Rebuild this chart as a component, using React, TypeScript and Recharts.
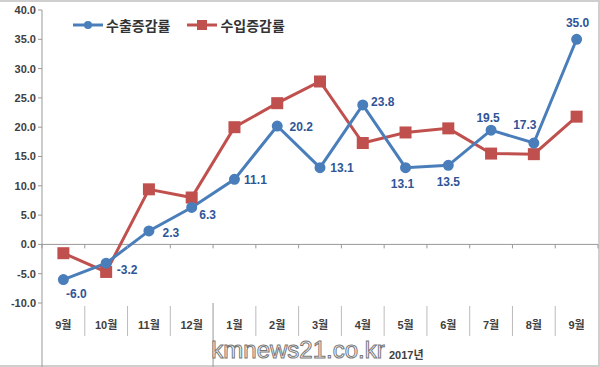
import React from 'react'
import {
  LineChart,
  Line,
  XAxis,
  YAxis,
  ReferenceLine,
  LabelList,
} from 'recharts'

const months = ['9월', '10월', '11월', '12월', '1월', '2월', '3월', '4월', '5월', '6월', '7월', '8월', '9월']
const exportRate = [-6.0, -3.2, 2.3, 6.3, 11.1, 20.2, 13.1, 23.8, 13.1, 13.5, 19.5, 17.3, 35.0]
const importRate = [-1.5, -4.7, 9.4, 8.0, 20.0, 24.1, 27.8, 17.3, 19.1, 19.8, 15.5, 15.4, 21.8]
const yTicks = [-10, -5, 0, 5, 10, 15, 20, 25, 30, 35, 40]
const yearLabel = '2017년'

const data = months.map((m, i) => ({
  key: `${m}-${i}`,
  month: m,
  exp: exportRate[i],
  imp: importRate[i],
}))

const W = 600
const H = 367
const PLOT_LEFT = 42
const PLOT_RIGHT = 598
const PLOT_TOP = 10
const PLOT_BOTTOM = 303
const BAND = (PLOT_RIGHT - PLOT_LEFT) / months.length
const ZERO_Y = PLOT_TOP + ((PLOT_BOTTOM - PLOT_TOP) * 40) / 50

const BLUE = '#4a7ebb'
const RED = '#c0504d'
const TEXT = '#404040'
const FONT = "'Liberation Sans', Arial, 'Noto Sans CJK KR', sans-serif"

// label offsets from each point (dx, dy)
const labelOffsets = [
  [13, 14], [21, 7], [22, 2], [16, 8], [21, 1], [24, 1], [22, 0],
  [20, -3], [-3, 16], [0, 17], [-3, -12], [-9, -18], [1, -16],
]

const MonthTick = ({ x, payload, index }: any) => {
  const left = x - BAND / 2
  const right = x + BAND / 2
  const isLast = index === months.length - 1
  return (
    <g>
      <line x1={left} x2={left} y1={ZERO_Y} y2={ZERO_Y + 4} stroke="#999" />
      {index === 0 || index === 4 ? (
        <line x1={left} x2={left} y1={PLOT_BOTTOM} y2={H} stroke="#999" />
      ) : (
        <line x1={left} x2={left} y1={PLOT_BOTTOM + 3} y2={PLOT_BOTTOM + 33} stroke="#bbb" />
      )}
      {isLast && (
        <line x1={right} x2={right} y1={ZERO_Y} y2={ZERO_Y + 4} stroke="#999" />
      )}
      <text
        x={x}
        y={PLOT_BOTTOM + 26}
        textAnchor="middle"
        fontSize={11}
        fontWeight={700}
        fill={TEXT}
        fontFamily={FONT}
      >
        {payload.value}
      </text>
    </g>
  )
}

const renderExportLabel = (props: any) => {
  const { x, y, value, index } = props
  const [dx, dy] = labelOffsets[index] || [0, -12]
  return (
    <text
      x={x + dx}
      y={y + dy}
      textAnchor="middle"
      dominantBaseline="central"
      fontSize={12}
      fontWeight={700}
      fill="#2f5597"
      fontFamily={FONT}
    >
      {Number(value).toFixed(1)}
    </text>
  )
}

const LegendBox = () => (
  <div
    style={{
      position: 'absolute',
      top: 13,
      left: 72,
      display: 'flex',
      alignItems: 'center',
      fontFamily: FONT,
      fontWeight: 700,
      fontSize: 14,
      color: '#333',
    }}
  >
    <svg width={32} height={12}>
      <line x1={1} x2={31} y1={6} y2={6} stroke={BLUE} strokeWidth={3} />
      <circle cx={16} cy={6} r={4} fill={BLUE} />
    </svg>
    <span style={{ marginLeft: 2, marginRight: 16 }}>수출증감률</span>
    <svg width={32} height={12}>
      <line x1={1} x2={31} y1={6} y2={6} stroke={RED} strokeWidth={3} />
      <rect x={11} y={1} width={10} height={10} fill={RED} />
    </svg>
    <span style={{ marginLeft: 2 }}>수입증감률</span>
  </div>
)

export default function App() {
  return (
    <div
      style={{
        position: 'absolute',
        left: 0,
        top: 0,
        width: W,
        height: H,
        background: '#fff',
        boxSizing: 'border-box',
        borderTop: '2px solid #cfcfcf',
        borderRight: '2px solid #cfcfcf',
        borderBottom: '2px solid #cfcfcf',
      }}
    >
      <div style={{ position: 'absolute', left: 0, top: -2 }}>
        <LineChart width={W} height={H} data={data} margin={{ top: PLOT_TOP, right: W - PLOT_RIGHT, left: 0, bottom: 0 }}>
          <YAxis
            width={PLOT_LEFT}
            domain={[-10, 40]}
            ticks={yTicks}
            interval={0}
            tickFormatter={(v: number) => v.toFixed(1)}
            axisLine={{ stroke: '#999' }}
            tickLine={{ stroke: '#999' }}
            tickSize={4}
            tickMargin={2}
            tick={{ fontSize: 11, fontWeight: 700, fill: TEXT, fontFamily: FONT }}
          />
          <XAxis
            dataKey="key"
            scale="band"
            height={H - PLOT_BOTTOM}
            axisLine={false}
            tickLine={false}
            interval={0}
            tick={(p: any) => <MonthTick {...p} payload={{ value: months[p.index] }} />}
          />
          <ReferenceLine y={0} stroke="#999" />
          <Line
            dataKey="imp"
            stroke={RED}
            strokeWidth={3}
            isAnimationActive={false}
            dot={(p: any) => (
              <rect key={`imp-${p.index}`} x={p.cx - 6} y={p.cy - 6} width={12} height={12} fill={RED} />
            )}
          />
          <Line
            dataKey="exp"
            stroke={BLUE}
            strokeWidth={3}
            isAnimationActive={false}
            dot={{ r: 4, fill: BLUE, stroke: BLUE }}
          >
            <LabelList dataKey="exp" content={renderExportLabel} />
          </Line>
        </LineChart>
      </div>
      <LegendBox />
      <svg width={W} height={H} style={{ position: 'absolute', left: 0, top: -2, pointerEvents: 'none' }}>
        <text
          x={298}
          y={358}
          textAnchor="middle"
          fontSize={24}
          fontFamily="'Liberation Sans', Arial, sans-serif"
          fill="#fff"
          stroke="#777"
          strokeWidth={1}
        >
          kmnews21.co.kr
        </text>
        <text x={389} y={359} fontSize={11} fontWeight={700} fill={TEXT} fontFamily={FONT}>
          {yearLabel}
        </text>
      </svg>
    </div>
  )
}
